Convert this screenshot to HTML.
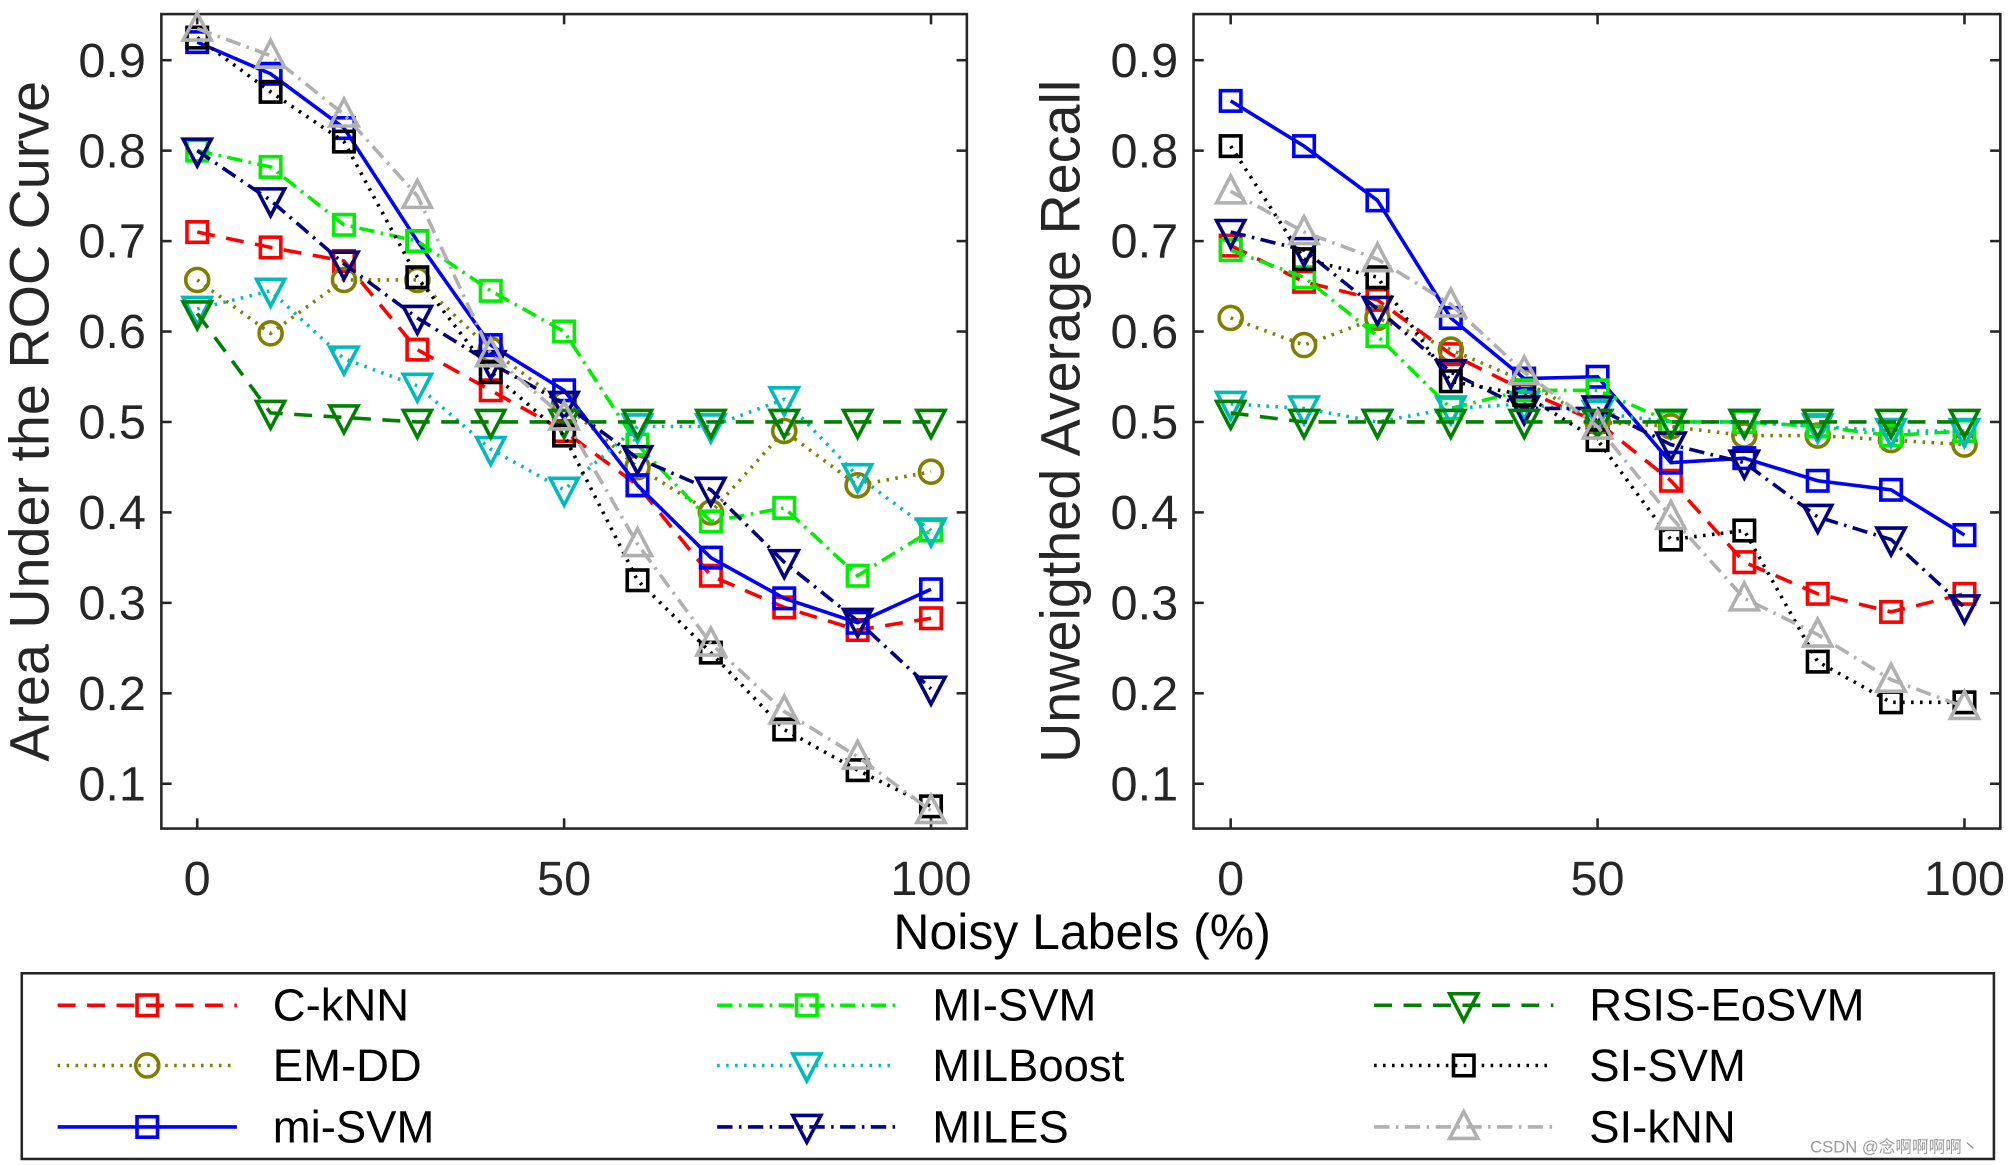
<!DOCTYPE html>
<html><head><meta charset="utf-8"><style>
html,body{margin:0;padding:0;background:#fff;}
svg{display:block;font-family:"Liberation Sans",Arial,sans-serif;}
</style></head><body>
<svg id="chart" width="2008" height="1165" viewBox="0 0 1568 909.7" xmlns="http://www.w3.org/2000/svg"></svg>
<script>
const xValues=[0,10,20,30,40,50,60,70,80,90,100];
const seriesNames=["C-kNN","EM-DD","mi-SVM","MI-SVM","MILBoost","MILES","RSIS-EoSVM","SI-SVM","SI-kNN"];
const aucCkNN=[0.71,0.693,0.678,0.58,0.535,0.49,0.43,0.33,0.295,0.27,0.283];
const aucEMDD=[0.657,0.598,0.657,0.657,0.58,0.52,0.45,0.40,0.49,0.43,0.445];
const aucMiSVM=[0.92,0.885,0.825,0.70,0.585,0.535,0.43,0.35,0.305,0.278,0.315];
const aucMISVM=[0.80,0.782,0.718,0.70,0.645,0.60,0.475,0.39,0.405,0.33,0.38];
const aucMILBoost=[0.625,0.645,0.57,0.54,0.47,0.425,0.495,0.495,0.525,0.44,0.38];
const aucMILES=[0.80,0.745,0.675,0.615,0.565,0.52,0.46,0.425,0.345,0.28,0.205];
const aucRSIS=[0.62,0.51,0.505,0.50,0.50,0.50,0.50,0.50,0.50,0.50,0.50];
const aucSISVM=[0.925,0.865,0.81,0.66,0.555,0.485,0.325,0.245,0.16,0.115,0.075];
const aucSIkNN=[0.935,0.905,0.84,0.75,0.575,0.505,0.365,0.255,0.18,0.13,0.07];
const uarCkNN=[0.695,0.655,0.635,0.575,0.535,0.5,0.435,0.345,0.31,0.29,0.31];
const uarEMDD=[0.615,0.585,0.615,0.58,0.545,0.5,0.495,0.485,0.485,0.48,0.475];
const uarMiSVM=[0.855,0.805,0.745,0.615,0.548,0.55,0.455,0.46,0.435,0.425,0.375];
const uarMISVM=[0.69,0.66,0.595,0.515,0.535,0.535,0.5,0.5,0.495,0.485,0.49];
const uarMILBoost=[0.52,0.515,0.5,0.515,0.52,0.51,0.5,0.5,0.495,0.49,0.49];
const uarMILES=[0.71,0.69,0.625,0.555,0.515,0.515,0.475,0.455,0.395,0.37,0.295];
const uarRSIS=[0.51,0.5,0.5,0.5,0.5,0.5,0.5,0.5,0.5,0.5,0.5];
const uarSISVM=[0.805,0.68,0.66,0.545,0.53,0.48,0.37,0.38,0.235,0.19,0.19];
const uarSIkNN=[0.755,0.71,0.68,0.63,0.555,0.495,0.395,0.305,0.265,0.215,0.185];
const yTicks=[0.1,0.2,0.3,0.4,0.5,0.6,0.7,0.8,0.9];
const yTickLabels=["0.1","0.2","0.3","0.4","0.5","0.6","0.7","0.8","0.9"];
const xTicks=[0,50,100];
const xTickLabels=["0","50","100"];

const styles=[
 {c:"#ff0000",d:"14,9",m:"sq",k:"c-knn"},
 {c:"#808000",d:"2,5",m:"circ",k:"em-dd"},
 {c:"#0000ff",d:"",m:"sq",k:"mi-svm"},
 {c:"#00ee00",d:"12,5,2,5",m:"sq",k:"mi-svm-upper"},
 {c:"#00bbbb",d:"2,5",m:"dtri",k:"milboost"},
 {c:"#000080",d:"12,5,2,5",m:"dtri",k:"miles"},
 {c:"#008000",d:"14,9",m:"dtri",k:"rsis-eosvm"},
 {c:"#000000",d:"2,5",m:"sq",k:"si-svm"},
 {c:"#b0b0b0",d:"12,5,2,5",m:"utri",k:"si-knn"}];
const NS="http://www.w3.org/2000/svg";
const svg=document.getElementById('chart');
function mk(t,a,p){const e=document.createElementNS(NS,t);for(const k in a)e.setAttribute(k,a[k]);(p||svg).appendChild(e);return e;}
function marker(g,type,x,y,c,sw){
 const s=8;let e;
 if(type==="sq")e=mk('rect',{x:x-s,y:y-s,width:2*s,height:2*s,fill:"none",stroke:c,"stroke-width":sw},g);
 else if(type==="circ")e=mk('circle',{cx:x,cy:y,r:s+1,fill:"none",stroke:c,"stroke-width":sw},g);
 else if(type==="dtri")e=mk('polygon',{points:`${x-11},${y-9} ${x+11},${y-9} ${x},${y+12}`,fill:"none",stroke:c,"stroke-width":sw},g);
 else e=mk('polygon',{points:`${x-11},${y+9} ${x+11},${y+9} ${x},${y-12}`,fill:"none",stroke:c,"stroke-width":sw},g);
 return e;
}
function panel(name,x0,x1,xa,xb,ylabel,ylx,data){
 const top=11,bot=647;
 const sx=v=>xa+(xb-xa)*v/100;
 const sy=v=>612-(v-0.1)/0.8*565;
 const g=mk('g',{});
 
 
 mk('rect',{x:x0,y:top,width:x1-x0,height:bot-top,fill:"#fff",stroke:"#262626","stroke-width":2},g);
 yTicks.forEach((t,i)=>{const y=sy(t);
  mk('line',{x1:x0,x2:x0+8,y1:y,y2:y,stroke:"#262626","stroke-width":2},g);
  mk('line',{x1:x1,x2:x1-8,y1:y,y2:y,stroke:"#262626","stroke-width":2},g);
  const tx=mk('text',{x:x0-12,y:y+13,"text-anchor":"end","font-size":38,fill:"#262626"},g);tx.textContent=yTickLabels[i];
  });
 xTicks.forEach((t,i)=>{const x=sx(t);
  mk('line',{x1:x,x2:x,y1:bot,y2:bot-8,stroke:"#262626","stroke-width":2},g);
  mk('line',{x1:x,x2:x,y1:top,y2:top+8,stroke:"#262626","stroke-width":2},g);
  const tx=mk('text',{x:x,y:699,"text-anchor":"middle","font-size":38,fill:"#262626"},g);tx.textContent=xTickLabels[i];
  });
 const yl=mk('text',{x:ylx,y:329,"text-anchor":"middle","font-size":43.5,fill:"#262626",transform:`rotate(-90 ${ylx} 329)`},g);
 yl.textContent=ylabel;
 data.forEach((arr,si)=>{const st=styles[si];
  const sg=mk('g',{},g);
  
  
  const pts=arr.map((v,i)=>sx(xValues[i])+","+sy(v)).join(" ");
  const pl=mk('polyline',{points:pts,fill:"none",stroke:st.c,"stroke-width":2.8,"stroke-dasharray":st.d},sg);
  
  arr.forEach((v,i)=>{const m=marker(sg,st.m,sx(xValues[i]),sy(v),st.c,2.8);
   });
 });
}
panel('auc-panel',126,755,154,727,"Area Under the ROC Curve",38,[aucCkNN,aucEMDD,aucMiSVM,aucMISVM,aucMILBoost,aucMILES,aucRSIS,aucSISVM,aucSIkNN]);
panel('uar-panel',932,1562,961,1534,"Unweigthed Average Recall",843,[uarCkNN,uarEMDD,uarMiSVM,uarMISVM,uarMILBoost,uarMILES,uarRSIS,uarSISVM,uarSIkNN]);
const xl=mk('text',{x:845,y:741,"text-anchor":"middle","font-size":39,fill:"#000"});
xl.textContent="Noisy Labels (%)";


const lg=mk('g',{});


mk('rect',{x:17,y:760,width:1540,height:145,fill:"#fff",stroke:"#262626","stroke-width":2},lg);
const colX=[45,560,1073],rowY=[785,832,880];
styles.forEach((st,i)=>{const cx=colX[Math.floor(i/3)],cy=rowY[i%3];
 const e=mk('g',{},lg);
 
 
 mk('line',{x1:cx,x2:cx+140,y1:cy,y2:cy,stroke:st.c,"stroke-width":2.8,"stroke-dasharray":st.d},e);
 marker(e,st.m,cx+70,cy,st.c,2.8);
 const t=mk('text',{x:cx+168,y:cy+12,"font-size":35.5,fill:"#000"},e);t.textContent=seriesNames[i];
});
const wm=mk('text',{x:1545,y:900,"text-anchor":"end","font-size":13,fill:"#999","font-family":"Liberation Sans, Noto Sans CJK SC, sans-serif"});
wm.textContent="CSDN @念啊啊啊啊丶";


</script>
</body></html>
